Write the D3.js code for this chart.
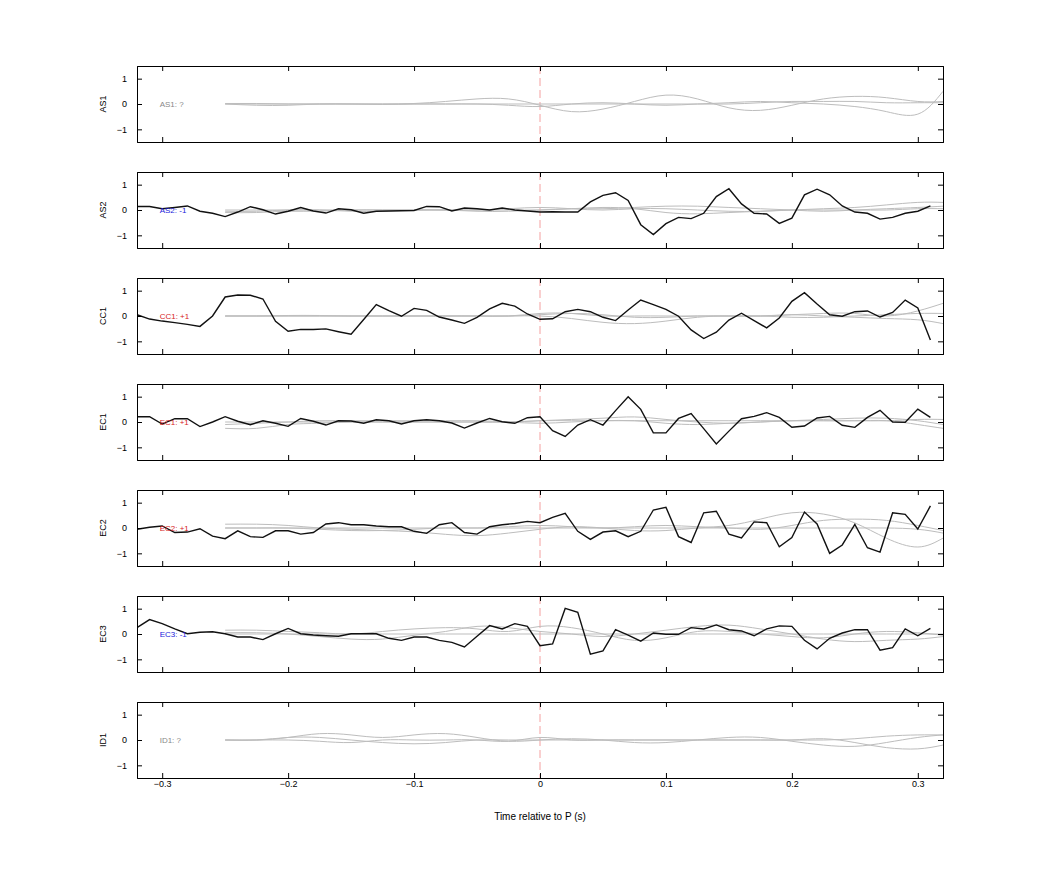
<!DOCTYPE html>
<html>
<head>
<meta charset="utf-8">
<script src="https://cdn.jsdelivr.net/npm/d3@7"></script>
<style>
body { margin: 0; background: #fff; }
text { font-family: "Liberation Sans", Arial, sans-serif; }
</style>
</head>
<body>
<svg id="chart" width="1042" height="875"></svg>
<script>
// station names, polarity labels and colours
const stations = ['AS1', 'AS2', 'CC1', 'EC1', 'EC2', 'EC3', 'ID1'];
const polarityLabels = ['AS1: ?', 'AS2: -1', 'CC1: +1', 'EC1: +1', 'EC2: +1', 'EC3: -1', 'ID1: ?'];
const labelColors = ['#888', '#1a1adb', '#d61a1a', '#d61a1a', '#d61a1a', '#1a1adb', '#888'];

// black trace sample times (s), every 0.01 from -0.32 to 0.31
const traceT = [-0.32,-0.31,-0.30,-0.29,-0.28,-0.27,-0.26,-0.25,-0.24,-0.23,-0.22,-0.21,-0.20,-0.19,-0.18,-0.17,-0.16,-0.15,-0.14,-0.13,-0.12,-0.11,-0.10,-0.09,-0.08,-0.07,-0.06,-0.05,-0.04,-0.03,-0.02,-0.01,
	0.00,0.01,0.02,0.03,0.04,0.05,0.06,0.07,0.08,0.09,0.10,0.11,0.12,0.13,0.14,0.15,0.16,0.17,0.18,0.19,0.20,0.21,0.22,0.23,0.24,0.25,0.26,0.27,0.28,0.29,0.30,0.31];

const traceAS2 = [0.14,0.14,0.05,0.10,0.16,-0.05,-0.13,-0.26,-0.08,0.13,0.01,-0.16,-0.05,0.10,-0.04,-0.12,0.05,0.01,-0.13,-0.05,-0.04,-0.03,-0.02,0.14,0.13,-0.04,0.08,0.05,0.00,0.08,0.00,-0.04,
	-0.08,-0.07,-0.08,-0.08,0.32,0.58,0.68,0.38,-0.58,-0.97,-0.54,-0.29,-0.34,-0.13,0.53,0.84,0.24,-0.13,-0.16,-0.53,-0.32,0.60,0.82,0.60,0.16,-0.08,-0.13,-0.36,-0.29,-0.13,-0.05,0.16];
const traceCC1 = [0.05,-0.12,-0.20,-0.26,-0.33,-0.41,0.00,0.75,0.83,0.82,0.67,-0.21,-0.60,-0.53,-0.53,-0.51,-0.62,-0.72,-0.14,0.45,0.21,-0.01,0.30,0.22,-0.04,-0.16,-0.29,-0.05,0.28,0.50,0.39,0.08,
	-0.13,-0.11,0.17,0.26,0.17,-0.05,-0.18,0.24,0.63,0.45,0.26,-0.01,-0.55,-0.89,-0.64,-0.16,0.11,-0.18,-0.47,-0.08,0.58,0.92,0.47,0.05,-0.01,0.17,0.20,-0.04,0.14,0.63,0.32,-0.95];
const traceEC1 = [0.21,0.21,-0.08,0.13,0.13,-0.18,0.00,0.21,0.03,-0.11,0.05,-0.05,-0.17,0.14,0.03,-0.12,0.05,0.04,-0.05,0.09,0.05,-0.08,0.05,0.09,0.05,-0.04,-0.24,-0.04,0.14,0.01,-0.05,0.17,
	0.21,-0.34,-0.57,-0.12,0.09,-0.12,0.45,1.00,0.50,-0.43,-0.43,0.14,0.33,-0.26,-0.87,-0.36,0.13,0.22,0.37,0.18,-0.21,-0.16,0.16,0.22,-0.13,-0.21,0.18,0.46,0.00,-0.01,0.51,0.18];
const traceEC2 = [-0.05,0.03,0.08,-0.18,-0.16,-0.03,-0.32,-0.42,-0.11,-0.34,-0.37,-0.11,-0.11,-0.24,-0.18,0.16,0.21,0.13,0.13,0.08,0.05,0.05,-0.13,-0.21,0.13,0.21,-0.18,-0.24,0.05,0.13,0.18,0.26,
	0.21,0.42,0.58,-0.13,-0.45,-0.16,-0.11,-0.34,-0.13,0.71,0.82,-0.34,-0.57,0.60,0.66,-0.24,-0.39,0.24,0.21,-0.74,-0.38,0.63,0.16,-1.00,-0.67,0.14,-0.78,-0.95,0.60,0.54,-0.04,0.87];
const traceEC3 = [0.25,0.57,0.41,0.20,0.01,0.07,0.09,0.01,-0.12,-0.12,-0.22,0.01,0.22,0.01,-0.04,-0.07,-0.09,0.01,0.01,0.01,-0.17,-0.25,-0.12,-0.12,-0.25,-0.33,-0.51,-0.09,0.33,0.20,0.41,0.30,
	-0.46,-0.39,1.01,0.86,-0.80,-0.67,0.17,-0.04,-0.28,0.04,-0.01,-0.01,0.25,0.20,0.36,0.17,0.12,-0.07,0.20,0.32,0.30,-0.25,-0.59,-0.17,0.04,0.17,0.17,-0.64,-0.54,0.20,-0.07,0.22];
const traces = [null, traceAS2, traceCC1, traceEC1, traceEC2, traceEC3, null];

// grey traces sample times (s)
const greyT = [-0.25,-0.225,-0.2,-0.175,-0.15,-0.125,-0.1,-0.075,-0.05,-0.025,0,0.025,0.05,0.075,0.1,0.125,0.15,0.175,0.2,0.225,0.25,0.275,0.3,0.32];

const greyAS1 = [
	[0,0,0,0,0,0,0.02,0.1,0.2,0.2,-0.05,-0.3,-0.2,0.1,0.35,0.2,-0.15,-0.25,-0.05,0.2,0.3,0.25,0.1,0.1],
	[0,-0.05,-0.05,0,0,0,0,0,0,-0.05,-0.1,0,0.05,0,-0.05,0,0.05,0.1,0.05,0,-0.1,-0.3,-0.4,0.5],
	[0.02,0.02,0,0,0,-0.02,0,0,0,0,0,0,0,0,0,0,0,0.05,0.1,0.1,0.1,0.05,0.05,0.05]
];
const greyAS2 = [
	[-0.05,-0.05,0,0,0,0,0,0,0,0.05,0.1,0.05,0,0.05,0.05,0,-0.05,-0.05,0,0.05,0.1,0.2,0.3,0.3],
	[0,0,0,0,-0.05,-0.05,0,0,0,0,0,0.05,0.1,0.05,-0.1,-0.15,-0.1,-0.05,0,0,0,0,0.05,0.05],
	[-0.1,-0.1,-0.05,-0.05,0,0,0,0,-0.05,-0.05,0,0.05,0.05,0.1,0.15,0.15,0.1,0.05,0,-0.05,0,0.05,0.1,0.15]
];
const greyCC1 = [
	[0,0,0,0,0,0,0,0,0,0,0.05,0.1,0.05,-0.05,-0.05,0,0,0,0.05,0.1,0.1,0,0.2,0.5],
	[0,0,0,0,0,0,0,0,0,0,0,-0.1,-0.25,-0.3,-0.2,-0.05,0,0,0.05,0,-0.05,-0.1,-0.15,-0.3],
	[0,0,0.02,0.02,0,0,0,0,0,0,0.1,0.1,0,0,0,0,0,0,-0.05,-0.05,0,0.05,0.1,0.1]
];
const greyEC1 = [
	[-0.25,-0.25,-0.1,-0.05,0,0,0,0,0,0,0.05,0.1,0.15,0.2,0.1,0,-0.05,0,0.05,0.05,0.05,0.05,-0.1,-0.25],
	[-0.1,-0.05,0,0.05,0.05,0.05,0.05,0.05,0.05,0,-0.05,0,0.05,0.05,-0.05,-0.1,-0.05,0,0.05,0.1,0.15,0.15,0.05,-0.1],
	[0,0,0,0,0,0,0,0,0,0,0.05,0.05,0.05,0.05,0.05,0.05,0.05,0.05,0.05,0.05,0.05,0.05,0.1,0.1]
];
const greyEC2 = [
	[0.15,0.15,0.1,0,-0.05,-0.1,-0.15,-0.25,-0.3,-0.2,-0.05,0.05,0,-0.1,-0.1,0,0.1,0.35,0.6,0.55,0.2,-0.4,-0.75,-0.4],
	[0,0,0,-0.05,-0.1,-0.1,-0.05,0,0,0.05,0.1,0.05,0,0.05,0.1,0.05,0,-0.05,0.1,0.3,0.35,0.3,0.1,-0.1],
	[0,0,0,0,0,0,0,0,0,0,0,0,0,0,0,0,0,0,0,0,0,0,-0.05,-0.2]
];
const greyEC3 = [
	[0.15,0.15,0.1,0.05,0,0.1,0.2,0.25,0.2,0.1,0.3,0.25,0,-0.25,-0.15,0.1,0.1,0,-0.1,-0.15,0,0.1,0.05,-0.05],
	[0.05,0.05,0,-0.1,-0.2,-0.2,-0.05,0.1,0.3,0.25,0.1,0,-0.1,0,0.15,0.3,0.35,0.2,0,-0.2,-0.3,-0.25,-0.2,-0.1],
	[0,0,0,0,0,0,0,0,0,0,0,0,0,0,0,0,0,0,0,0,0,0,0,0]
];
const greyID1 = [
	[0,0,0.1,0.25,0.2,0.1,0.2,0.25,0.1,-0.05,0,0.05,0,-0.1,-0.1,0,0.1,0.1,-0.05,-0.2,-0.25,-0.1,0.1,0.2],
	[0,0,0,-0.05,-0.1,0,0,0,0,-0.05,0.1,0,0,0,0,0,0,0,0,0,0.05,0.15,0.2,0.2],
	[0,0,0.1,0.1,0,-0.1,-0.15,-0.1,0,0,0,0,0,0,0,0,0,0,0,0.05,-0.1,-0.3,-0.35,-0.2]
];
const greys = [greyAS1, greyAS2, greyCC1, greyEC1, greyEC2, greyEC3, greyID1];

const xTicks = [-0.3, -0.2, -0.1, 0, 0.1, 0.2, 0.3];
const yTicks = [-1, 0, 1];

const margin = { left: 137, right: 99, top: 66 };
const panelH = 76;
const panelStep = 106;
const width = 1042 - margin.left - margin.right;

const svg = d3.select('#chart');

const x = d3.scaleLinear().domain([-0.32, 0.32]).range([0, width]);
const y = d3.scaleLinear().domain([-1.5, 1.5]).range([panelH, 0]);

const line = d3.line().x(d => x(d[0])).y(d => y(d[1]));
const smooth = d3.line().curve(d3.curveNatural).x(d => x(d[0])).y(d => y(d[1]));

svg.append('defs').append('clipPath').attr('id', 'clip')
	.append('rect').attr('width', width).attr('height', panelH);

stations.forEach((st, i) => {
	const g = svg.append('g')
		.attr('transform', `translate(${margin.left}, ${margin.top + i * panelStep})`);

	const plot = g.append('g').attr('clip-path', 'url(#clip)');

	plot.append('line')
		.attr('x1', x(0)).attr('x2', x(0))
		.attr('y1', 0).attr('y2', panelH)
		.attr('stroke', '#f4a0a0')
		.attr('stroke-dasharray', '8,4')
		.attr('stroke-width', 1);

	greys[i].forEach(vals => {
		plot.append('path')
			.datum(greyT.map((t, k) => [t, vals[k]]))
			.attr('fill', 'none')
			.attr('stroke', '#bdbdbd')
			.attr('stroke-width', 1)
			.attr('d', smooth);
	});

	if (traces[i]) {
		plot.append('path')
			.datum(traceT.map((t, k) => [t, traces[i][k]]))
			.attr('fill', 'none')
			.attr('stroke', '#111')
			.attr('stroke-width', 1.4)
			.attr('d', line);
	}

	g.append('text')
		.attr('x', x(-0.302))
		.attr('y', y(0) + 3)
		.attr('font-size', 8)
		.attr('fill', labelColors[i])
		.text(polarityLabels[i]);

	// axes with inward ticks on all sides
	const tickFmt = d => (d === 0 ? '0' : d3.format('.1f')(d));
	g.append('g').attr('transform', `translate(0, ${panelH})`)
		.call(d3.axisBottom(x).tickValues(xTicks).tickSize(-5).tickFormat(i === stations.length - 1 ? tickFmt : ''));
	g.append('g')
		.call(d3.axisTop(x).tickValues(xTicks).tickSize(-5).tickFormat(''));
	g.append('g')
		.call(d3.axisLeft(y).tickValues(yTicks).tickSize(-5).tickPadding(10).tickFormat(d3.format('d')));
	g.append('g').attr('transform', `translate(${width}, 0)`)
		.call(d3.axisRight(y).tickValues(yTicks).tickSize(-5).tickFormat(''));

	g.selectAll('.domain').attr('stroke', '#000');
	g.selectAll('.tick line').attr('stroke', '#000');
	g.selectAll('.tick text').attr('font-size', 9).attr('fill', '#000')
		.attr('font-family', '"Liberation Sans", Arial, sans-serif');

	g.append('text')
		.attr('transform', `translate(-31, ${panelH / 2}) rotate(-90)`)
		.attr('text-anchor', 'middle')
		.attr('font-size', 9)
		.text(st);
});

svg.append('text')
	.attr('x', margin.left + x(0))
	.attr('y', 820)
	.attr('text-anchor', 'middle')
	.attr('font-size', 10)
	.text('Time relative to P (s)');
</script>
</body>
</html>
